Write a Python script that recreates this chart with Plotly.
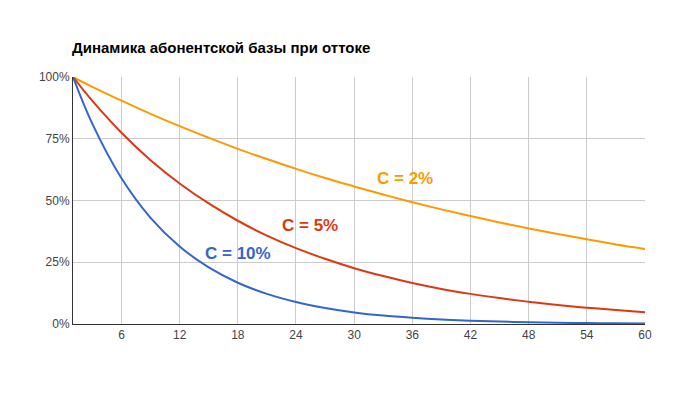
import plotly.graph_objects as go

months = [1, 3, 6, 9, 12, 15, 18, 21, 24, 27, 30, 33, 36, 39, 42, 45, 48, 51, 54, 57, 60]
churn_2 = [1.0, .960, .904, .851, .801, .754, .709, .668, .628, .591, .557, .524, .493, .464,
           .437, .411, .387, .364, .343, .322, .304]
churn_5 = [1.0, .903, .774, .663, .569, .488, .418, .358, .307, .264, .226, .194, .166, .142,
           .122, .105, .090, .077, .066, .057, .048]
churn_10 = [1.0, .81, .590, .430, .314, .229, .167, .122, .089, .065, .047, .034, .025, .018,
            .013, .010, .007, .005, .004, .003, .002]

series = [("C = 2%", churn_2, "#ff9900", 35.2, 0.59),
          ("C = 5%", churn_5, "#dc3912", 25.4, 0.40),
          ("C = 10%", churn_10, "#3366cc", 18.0, 0.285)]

fig = go.Figure()
for name, vals, color, lx, ly in series:
    fig.add_trace(go.Scatter(x=months, y=vals, mode="lines", name=name,
                             line=dict(color=color, width=2, shape="spline")))
    fig.add_annotation(x=lx, y=ly, text="<b>%s</b>" % name, showarrow=False,
                       font=dict(color=color, size=17))

# page body has an 8px margin, so margins are shifted by that
fig.update_layout(
    width=688, height=401, showlegend=False,
    plot_bgcolor="white", paper_bgcolor="white",
    font=dict(family="Liberation Sans, Arial", size=12, color="#444"),
    title=dict(text="<b>Динамика абонентской базы при оттоке</b>", x=64 / 688, xanchor="left",
               y=0.915, font=dict(size=15, color="black")),
    margin=dict(l=65, r=51, t=69, b=85),
    xaxis=dict(range=[1, 60], tickvals=[6, 12, 18, 24, 30, 36, 42, 48, 54, 60],
               showgrid=True, gridcolor="#cccccc", zeroline=False,
               showline=True, linecolor="#333", ticks=""),
    yaxis=dict(range=[0, 1], tickvals=[0, .25, .5, .75, 1], tickformat=".0%",
               showgrid=True, gridcolor="#cccccc", zeroline=False,
               showline=True, linecolor="#333"),
)
fig.write_html("out.html")
